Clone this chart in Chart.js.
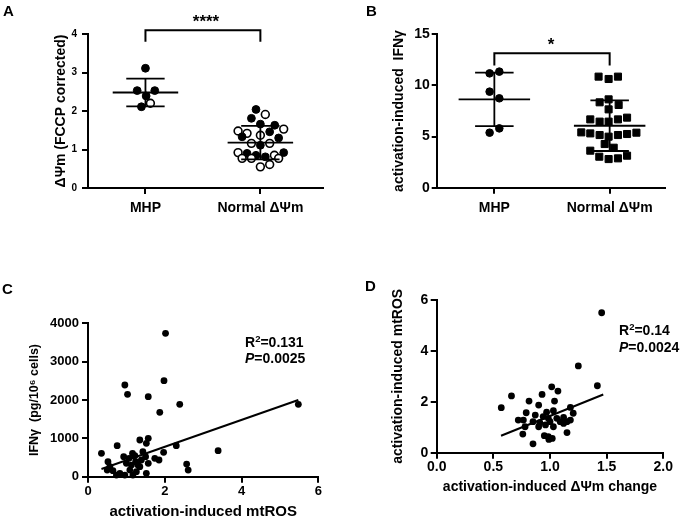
<!DOCTYPE html>
<html><head><meta charset="utf-8">
<script src="https://cdn.jsdelivr.net/npm/chart.js@4.4.1/dist/chart.umd.min.js"></script>
<style>
html,body{margin:0;padding:0;background:#fff;overflow:hidden;width:685px;height:518px;position:relative;}
.panel{position:absolute;}
.panel canvas{display:block;}
.lbl{position:absolute;font-family:"Liberation Sans",Arial,Helvetica,sans-serif;font-weight:bold;color:#000;white-space:nowrap;line-height:1;}
.lbl sup{font-size:0.68em;vertical-align:0.5em;line-height:0;}
</style></head><body>
<div class="panel" style="left:0;top:0"><canvas id="cA" width="340" height="250"></canvas></div>
<div class="panel" style="left:340px;top:0"><canvas id="cB" width="345" height="250"></canvas></div>
<div class="panel" style="left:0;top:262px"><canvas id="cC" width="340" height="258"></canvas></div>
<div class="panel" style="left:340px;top:262px"><canvas id="cD" width="345" height="256"></canvas></div>

<div class="lbl" style="left:3px;top:3px;font-size:15px">A</div>
<div class="lbl" style="left:366px;top:3px;font-size:15px">B</div>
<div class="lbl" style="left:2px;top:281px;font-size:15px">C</div>
<div class="lbl" style="left:365px;top:278px;font-size:15px">D</div>
<div class="lbl" style="left:206px;top:13px;font-size:17px;transform:translateX(-50%)">****</div>
<div class="lbl" style="left:551px;top:36px;font-size:17px;transform:translateX(-50%)">*</div>
<div class="lbl" style="left:245px;top:335px;font-size:14px">R<sup>2</sup>=0.131</div>
<div class="lbl" style="left:245px;top:351px;font-size:14px"><i>P</i>=0.0025</div>
<div class="lbl" style="left:619px;top:323px;font-size:14px">R<sup>2</sup>=0.14</div>
<div class="lbl" style="left:619px;top:340px;font-size:14px"><i>P</i>=0.0024</div>

<script>
// ---------- DATA ----------
const groupLabels = ['MHP', 'Normal ΔΨm'];

// Panel A: ΔΨm (FCCP corrected)
const aMhpJitter = [0, -0.072, 0.081, 0.006, -0.035, 0.043];
const aMhpValues = [3.11, 2.53, 2.53, 2.39, 2.11, 2.20];
const aMhpFilled = [1, 1, 1, 1, 1, 0];
const aNormJitter = [-0.038, 0.043, -0.078, 0, 0.125, 0.203, -0.194, -0.116, 0.081, -0.159, 0, 0.159, -0.078, 0.081, 0, -0.194, -0.116, -0.038, 0.122, 0.203, -0.159, -0.078, 0.043, 0.159, 0, 0.081];
const aNormValues = [2.04, 1.91, 1.81, 1.66, 1.63, 1.53, 1.48, 1.42, 1.46, 1.33, 1.37, 1.30, 1.16, 1.16, 1.11, 0.92, 0.90, 0.85, 0.85, 0.92, 0.77, 0.77, 0.81, 0.77, 0.55, 0.61];
const aNormFilled = [1, 0, 1, 1, 1, 0, 0, 0, 1, 1, 0, 1, 0, 0, 1, 0, 1, 1, 0, 1, 0, 0, 1, 0, 0, 0];
const aMeans = [2.48, 1.18];
const aSDs = [0.36, 0.435];
const aBracketY = [3.8, 4.1];
const aYTicks = [0, 1, 2, 3, 4];

// Panel B: activation-induced IFNγ
const bMhpJitter = [-0.041, 0.043, -0.041, 0.043, -0.041, 0.043];
const bMhpValues = [11.18, 11.35, 9.39, 8.74, 5.38, 5.80];
const bNormJitter = [-0.096, -0.009, 0.072, -0.087, -0.009, 0.078, -0.009, -0.168, -0.087, -0.009, 0.072, 0.151, -0.246, -0.168, -0.087, -0.009, 0.072, 0.151, 0.232, -0.043, 0.035, -0.168, -0.090, -0.009, 0.072, 0.151];
const bNormValues = [10.86, 10.63, 10.86, 8.35, 8.64, 8.09, 7.66, 6.68, 6.46, 6.46, 6.68, 6.85, 5.41, 5.31, 5.15, 4.99, 5.15, 5.25, 5.38, 4.27, 3.91, 3.62, 3.03, 2.80, 2.87, 3.13];
const bMeans = [8.64, 6.06];
const bSDs = [2.61, 2.47];
const bBracketY = [11.95, 13.15];
const bYTicks = [0, 5, 10, 15];

// Panel C: IFNγ vs activation-induced mtROS
const cMtros = [2.02, 1.98, 0.96, 1.03, 1.57, 2.39, 1.87, 5.48, 3.39, 2.30, 1.97, 0.35, 0.76, 1.35, 1.57, 1.52, 2.57, 2.61, 0.52, 0.57, 0.50, 0.65, 0.83, 0.74, 0.93, 1.16, 1.22, 1.00, 0.96, 1.09, 1.17, 1.26, 1.30, 1.39, 1.43, 1.50, 1.57, 1.52, 1.74, 1.85, 1.24, 1.35, 1.13, 1.07];
const cIfng = [3739, 2504, 2391, 2148, 2087, 1887, 1678, 1887, 678, 809, 635, 609, 809, 957, 1000, 870, 330, 174, 391, 261, 174, 157, 87, 43, 522, 609, 548, 348, 43, 174, 43, 130, 304, 435, 652, 522, 348, 87, 478, 435, 391, 261, 304, 478];
const cFitSlope = 351;
const cFitIntercept = 77;
const cFitRange = [0.35, 5.48];
const cXTicks = [0, 2, 4, 6];
const cYTicks = [0, 1000, 2000, 3000, 4000];

// Panel D: mtROS vs ΔΨm change
const dPsiChange = [1.456, 1.25, 1.418, 1.015, 0.66, 0.57, 0.93, 1.07, 0.815, 1.04, 0.90, 1.18, 1.205, 0.79, 0.87, 0.97, 1.03, 0.94, 0.985, 1.06, 1.12, 0.72, 0.765, 0.85, 0.91, 0.96, 1.0, 1.09, 1.15, 1.18, 0.78, 0.90, 1.03, 1.12, 0.76, 1.15, 0.95, 0.985, 0.99, 0.85, 1.02];
const dMtros = [5.50, 3.41, 2.63, 2.59, 2.23, 1.77, 2.29, 2.42, 2.03, 2.03, 1.87, 1.78, 1.55, 1.57, 1.48, 1.59, 1.65, 1.42, 1.35, 1.35, 1.39, 1.28, 1.28, 1.22, 1.18, 1.09, 1.22, 1.22, 1.22, 1.28, 1.02, 1.02, 1.02, 1.15, 0.73, 0.79, 0.67, 0.63, 0.52, 0.35, 0.56];
const dFitSlope = 1.797;
const dFitIntercept = -0.353;
const dFitRange = [0.568, 1.47];
const dXTicks = [0, 0.5, 1.0, 1.5, 2.0];
const dYTicks = [0, 2, 4, 6];

// ---------- HELPERS ----------
const FONT = '"Liberation Sans", Arial, Helvetica, sans-serif';
const BLACK = '#000';

function swarm(center, jitter, values) {
  return values.map((v, i) => ({x: center + jitter[i], y: v}));
}
function summaryLines(means, sds, meanHalf, capHalf) {
  const pts = [];
  means.forEach((m, i) => {
    const c = i + 1, s = sds[i];
    pts.push({x: c - meanHalf, y: m}, {x: c + meanHalf, y: m}, {x: c, y: null});
    pts.push({x: c - capHalf, y: m + s}, {x: c + capHalf, y: m + s}, {x: c, y: null});
    pts.push({x: c - capHalf, y: m - s}, {x: c + capHalf, y: m - s}, {x: c, y: null});
    pts.push({x: c, y: m - s}, {x: c, y: m + s}, {x: c, y: null});
  });
  return pts;
}
function bracket(yPair) {
  return [{x: 1, y: yPair[0]}, {x: 1, y: yPair[1]}, {x: 2, y: yPair[1]}, {x: 2, y: yPair[0]}];
}
function fitLine(slope, intercept, range) {
  return range.map(x => ({x: x, y: intercept + slope * x}));
}
function lineDs(data, width, clip) {
  return {data, showLine: true, borderColor: BLACK, borderWidth: width, pointRadius: 0,
          fill: false, spanGaps: false, clip: clip === false ? false : undefined, tension: 0};
}
function scaleDef(o) {
  const isY = o.axis === 'y';
  const s = {
    type: 'linear', position: isY ? 'left' : 'bottom', min: o.min, max: o.max,
    afterBuildTicks: sc => { sc.ticks = o.ticks.map(v => ({value: v})); },
    afterFit: sc => {
      if (isY) sc.width = o.size; else sc.height = o.size;
      sc.paddingLeft = sc.paddingRight = sc.paddingTop = sc.paddingBottom = 0;
    },
    ticks: {
      color: BLACK, autoSkip: false, maxRotation: 0, minRotation: 0, padding: o.tickPad,
      font: {family: FONT, size: o.tickSize, weight: 'bold', lineHeight: 1.2},
      callback: o.label || (v => String(v))
    },
    grid: {display: true, drawOnChartArea: false, drawTicks: true, tickLength: o.tickLen || 6,
           tickWidth: 2, tickColor: BLACK, color: BLACK, lineWidth: 2},
    border: {display: true, color: BLACK, width: 2},
    title: {display: false}
  };
  if (o.title) {
    s.title = {display: true, text: o.title, color: BLACK,
      font: {family: FONT, size: o.titleSize, weight: 'bold', lineHeight: 1},
      padding: isY ? {top: o.titlePad, bottom: 0} : {top: 0, bottom: o.titlePad}};
  }
  return s;
}
function baseOptions(padding, xScale, yScale) {
  return {
    responsive: false, maintainAspectRatio: false, animation: false, devicePixelRatio: 1,
    events: [],
    layout: {padding},
    plugins: {legend: {display: false}, tooltip: {enabled: false}, title: {display: false}},
    scales: {x: xScale, y: yScale}
  };
}

// ---------- PANEL A ----------
new Chart(document.getElementById('cA'), {
  type: 'scatter',
  data: {datasets: [
    lineDs(summaryLines(aMeans, aSDs, 0.285, 0.167), 1.8),
    lineDs(bracket(aBracketY), 2, false),
    {data: swarm(1, aMhpJitter, aMhpValues), pointRadius: 3.9,
     pointBackgroundColor: aMhpFilled.map(f => f ? BLACK : '#fff'), pointBorderColor: BLACK,
     pointBorderWidth: aMhpFilled.map(f => f ? 1 : 1.6), clip: false},
    {data: swarm(2, aNormJitter, aNormValues), pointRadius: 3.9,
     pointBackgroundColor: aNormFilled.map(f => f ? BLACK : '#fff'), pointBorderColor: BLACK,
     pointBorderWidth: aNormFilled.map(f => f ? 1 : 1.6), clip: false}
  ]},
  options: baseOptions({left: 0, top: 34, right: 17, bottom: 0},
    scaleDef({axis: 'x', min: 0.5, max: 2.545, ticks: [1, 2], size: 62, tickPad: 6, tickSize: 14,
              label: v => groupLabels[Math.round(v) - 1]}),
    scaleDef({axis: 'y', min: 0, max: 4, ticks: aYTicks, size: 88, tickPad: 5, tickSize: 10,
              title: 'ΔΨm (FCCP corrected)', titleSize: 14, titlePad: 54.5}))
});

// ---------- PANEL B ----------
new Chart(document.getElementById('cB'), {
  type: 'scatter',
  data: {datasets: [
    lineDs(summaryLines(bMeans, bSDs, 0.31, 0.167), 1.8),
    lineDs(bracket(bBracketY), 2, false),
    {data: swarm(1, bMhpJitter, bMhpValues), pointRadius: 3.8, pointStyle: 'circle',
     pointBackgroundColor: BLACK, pointBorderColor: BLACK, pointBorderWidth: 1, clip: false},
    {data: swarm(2, bNormJitter, bNormValues), pointRadius: 5, pointStyle: 'rect',
     pointBackgroundColor: BLACK, pointBorderColor: BLACK, pointBorderWidth: 1, clip: false}
  ]},
  options: baseOptions({left: 0, top: 34.3, right: 20, bottom: 0},
    scaleDef({axis: 'x', min: 0.5, max: 2.48, ticks: [1, 2], size: 62.3, tickPad: 6, tickSize: 14,
              label: v => groupLabels[Math.round(v) - 1]}),
    scaleDef({axis: 'y', min: 0, max: 15, ticks: bYTicks, size: 96.7, tickPad: 2, tickLen: 5, tickSize: 14,
              title: 'activation-induced  IFNγ', titleSize: 14, titlePad: 52}))
});

// ---------- PANEL C ----------
new Chart(document.getElementById('cC'), {
  type: 'scatter',
  data: {datasets: [
    lineDs(fitLine(cFitSlope, cFitIntercept, cFitRange), 2),
    {data: cMtros.map((x, i) => ({x: x, y: cIfng[i]})), pointRadius: 3.4,
     pointBackgroundColor: BLACK, pointBorderColor: BLACK, pointBorderWidth: 0, clip: false}
  ]},
  options: baseOptions({left: 0, top: 61.3, right: 21.7, bottom: 0},
    scaleDef({axis: 'x', min: 0, max: 6, ticks: cXTicks, size: 43.3, tickPad: 1, tickSize: 13,
              title: 'activation-induced mtROS', titleSize: 15, titlePad: 1}),
    scaleDef({axis: 'y', min: 0, max: 4000, ticks: cYTicks, size: 88, tickPad: 3, tickSize: 13,
              title: 'IFNγ  (pg/10⁶ cells)', titleSize: 12.5, titlePad: 28}))
});

// ---------- PANEL D ----------
new Chart(document.getElementById('cD'), {
  type: 'scatter',
  data: {datasets: [
    lineDs(fitLine(dFitSlope, dFitIntercept, dFitRange), 2),
    {data: dPsiChange.map((x, i) => ({x: x, y: dMtros[i]})), pointRadius: 3.4,
     pointBackgroundColor: BLACK, pointBorderColor: BLACK, pointBorderWidth: 0, clip: false}
  ]},
  options: baseOptions({left: 0, top: 38, right: 21.7, bottom: 0},
    scaleDef({axis: 'x', min: 0, max: 2, ticks: dXTicks, size: 65.3, tickPad: 0, tickSize: 14,
              label: v => v.toFixed(1),
              title: 'activation-induced ΔΨm change', titleSize: 14, titlePad: 24}),
    scaleDef({axis: 'y', min: 0, max: 6, ticks: dYTicks, size: 96.7, tickPad: 2.4, tickSize: 14,
              title: 'activation-induced mtROS', titleSize: 14, titlePad: 51}))
});
</script>
</body></html>
